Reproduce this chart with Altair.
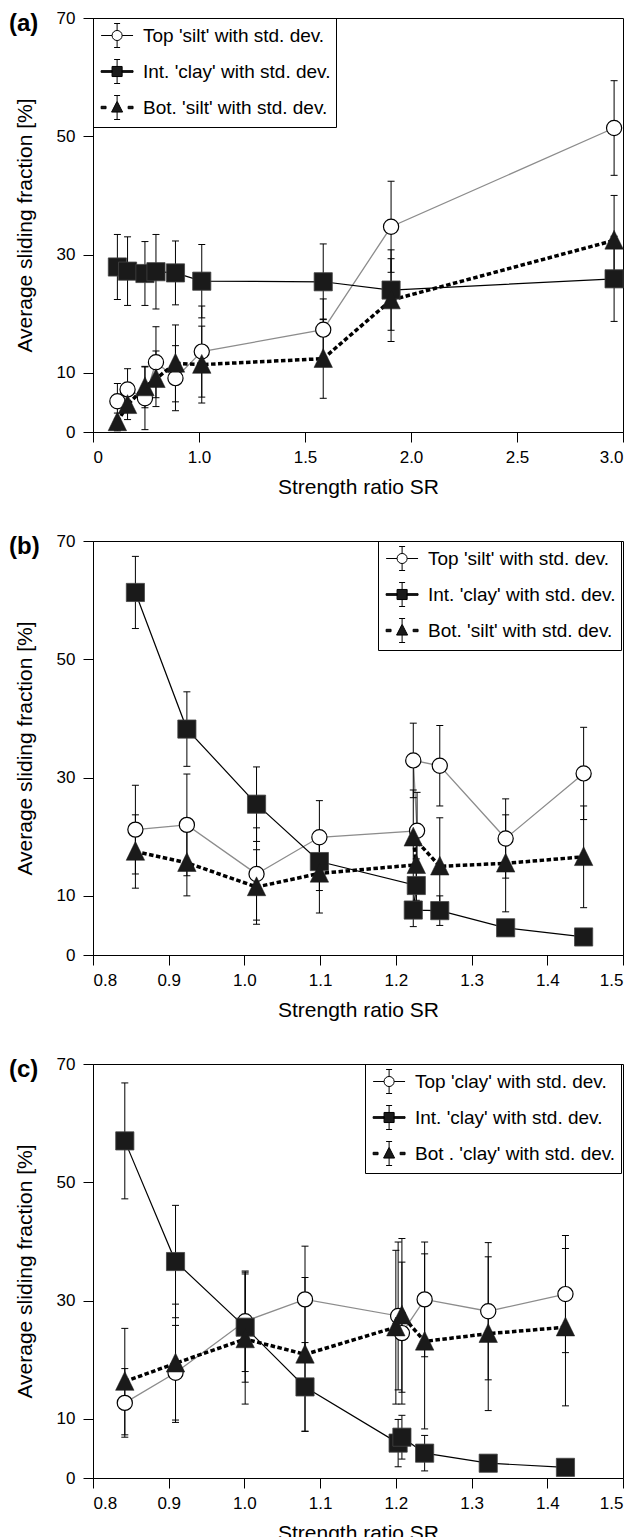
import altair as alt
import pandas as pd

FONT = "Liberation Sans"
GRAY = "#8c8c8c"
DARK = "#1a1a1a"
W, H = 530, 414

Y_TICKS = [0, 10, 30, 50, 70]
X_TICKS_A = [0.5, 1.0, 1.5, 2.0, 2.5, 3.0]
X_TICKS_BC = [0.8, 0.9, 1.0, 1.1, 1.2, 1.3, 1.4, 1.5]

LABELS_AB = ["Top 'silt' with std. dev.", "Int. 'clay' with std. dev.", "Bot. 'silt' with std. dev."]
LABELS_C = ["Top 'clay' with std. dev.", "Int. 'clay' with std. dev.", "Bot . 'clay' with std. dev."]

# ---------------- panel (a) ----------------
a_x = [0.615, 0.663, 0.745, 0.797, 0.889, 1.013, 1.586, 1.906, 2.958]
a_top_y = [5.2, 7.2, 5.7, 11.8, 9.1, 13.6, 17.3, 34.7, 51.4]
a_top_sd = [3.0, 3.5, 5.3, 6.0, 5.5, 7.7, 5.2, 7.7, 8.0]
a_int_y = [27.9, 27.2, 26.8, 27.1, 26.9, 25.5, 25.4, 24.0, 25.9]
a_int_sd = [5.5, 5.8, 5.4, 6.3, 5.4, 6.2, 6.4, 6.8, 7.2]
a_bot_y = [1.7, 4.6, 7.6, 9.0, 11.6, 11.4, 12.4, 22.3, 32.4]
a_bot_sd = [1.5, 2.5, 3.5, 4.7, 6.5, 6.5, 6.7, 7.0, 7.6]

# ---------------- panel (b) ----------------
b_top_x = [0.856, 0.924, 1.016, 1.099, 1.228, 1.223, 1.258, 1.345, 1.448]
b_top_y = [21.2, 22.0, 13.7, 19.9, 21.0, 32.9, 32.0, 19.7, 30.7]
b_top_sd = [7.5, 8.6, 7.8, 6.2, 6.5, 6.3, 6.8, 6.7, 7.8]
b_int_x = [0.856, 0.924, 1.016, 1.099, 1.227, 1.223, 1.258, 1.345, 1.448]
b_int_y = [61.3, 38.2, 25.5, 15.8, 11.75, 7.6, 7.5, 4.6, 3.05]
b_int_sd = [6.1, 6.3, 6.3, 4.9, 4.5, 2.8, 2.5, 0.4, 0.3]
b_bot_x = [0.856, 0.924, 1.016, 1.099, 1.227, 1.223, 1.258, 1.345, 1.448]
b_bot_y = [17.5, 15.6, 11.5, 13.8, 15.25, 19.9, 15.0, 15.5, 16.6]
b_bot_sd = [6.2, 5.6, 6.3, 6.7, 6.0, 8.0, 8.2, 8.2, 8.6]

# ---------------- panel (c) ----------------
c_top_x = [0.842, 0.909, 1.001, 1.080, 1.203, 1.208, 1.238, 1.322, 1.424]
c_top_y = [12.7, 17.8, 26.5, 30.2, 27.4, 24.5, 30.2, 28.2, 31.1]
c_top_sd = [5.8, 8.0, 8.5, 9.0, 12.5, 12.0, 9.7, 11.6, 9.9]
c_int_x = [0.842, 0.909, 1.001, 1.080, 1.203, 1.208, 1.238, 1.322, 1.424]
c_int_y = [57.0, 36.6, 25.5, 15.4, 5.9, 6.9, 4.2, 2.5, 1.8]
c_int_sd = [9.8, 9.5, 9.3, 7.5, 4.0, 3.7, 3.0, 0.5, 0.4]
c_bot_x = [0.842, 0.909, 1.001, 1.080, 1.200, 1.208, 1.238, 1.322, 1.424]
c_bot_y = [16.3, 19.4, 23.5, 20.9, 25.5, 27.5, 23.1, 24.4, 25.5]
c_bot_sd = [9.0, 10.0, 11.0, 13.0, 13.0, 13.0, 14.8, 13.0, 13.3]

# ---- legend glyphs (unit = 12 px, glyph centred S units right of the slot centre) ----
S = 0.55


def f(v):
    return "{:.3f}".format(v)


def eb(t, b):
    return ("M{s},{t}V-1M{cl},-1H{cr}M{s},{b}V1M{cl},1H{cr}"
            .format(s=f(S), t=f(t), b=f(b), cl=f(S - 0.25), cr=f(S + 0.25)))


def rect(x0, x1, hh):
    return "M{a},{t}H{b}V{u}H{a}Z".format(a=f(S + x0), b=f(S + x1), t=f(-hh), u=f(hh))


P_CIRC = ("M{a},0H{b}M{c},0H{d}".format(a=f(S - 1.33), b=f(S - 0.42), c=f(S + 0.42), d=f(S + 1.33))
          + "M{a},0A0.42,0.42 0 1,1 {b},0A0.42,0.42 0 1,1 {a},0Z".format(a=f(S + 0.42), b=f(S - 0.42))
          + eb(-0.42, 0.42))
P_SQ = (rect(-1.33, -0.42, 0.07) + rect(0.42, 1.33, 0.07)
        + "M{l},-0.42H{r}V0.42H{l}Z".format(l=f(S - 0.42), r=f(S + 0.42)) + eb(-0.42, 0.42))
P_TRI = (rect(-1.33, -0.92, 0.1) + rect(0.92, 1.33, 0.1)
         + "M{s},-0.52L{r},0.38H{l}Z".format(s=f(S), l=f(S - 0.46), r=f(S + 0.46)) + eb(-0.52, 0.38))
TRI_MARK = "M0,-1.1L1,0.95L-1,0.95Z"
DASH_BOT = [4.5, 2.5]


def build_df(labels, series):
    rows = []
    for lab, (xs, ys, sds) in zip(labels, series):
        for i, (x, y, s) in enumerate(zip(xs, ys, sds)):
            rows.append(dict(series=lab, idx=i, x=x, y=y, lo=y - s, hi=y + s))
    return pd.DataFrame(rows)


def panel(df, labels, xdom, xvals, lab_expr, tag, leg_x):
    xenc = alt.X("x:Q", scale=alt.Scale(domain=xdom, nice=False, zero=False),
                 axis=alt.Axis(values=xvals, labelExpr=lab_expr, title="Strength ratio SR"))
    yenc = alt.Y("y:Q", scale=alt.Scale(domain=[0, 70], nice=False, zero=False),
                 axis=alt.Axis(values=Y_TICKS, title="Average sliding fraction [%]"))
    base = alt.Chart(df)

    def line(lab, color, width, dash):
        kw = dict(color=color, strokeWidth=width)
        if dash:
            kw["strokeDash"] = dash
        return base.transform_filter(alt.datum.series == lab).mark_line(**kw).encode(
            x=xenc, y=yenc, order="idx:Q")

    l_top = line(labels[0], GRAY, 1.3, None)
    l_int = line(labels[1], "black", 1.2, None)
    l_bot = line(labels[2], "black", 3.5, DASH_BOT)

    bars = base.mark_rule(color="black", strokeWidth=1).encode(x="x:Q", y="lo:Q", y2="hi:Q")
    caps_lo = base.mark_tick(orient="horizontal", color="black", thickness=1, size=7, opacity=1).encode(x="x:Q", y="lo:Q")
    caps_hi = base.mark_tick(orient="horizontal", color="black", thickness=1, size=7, opacity=1).encode(x="x:Q", y="hi:Q")
    p_top = base.transform_filter(alt.datum.series == labels[0]).mark_point(
        shape="circle", size=230, filled=True, fill="white", stroke="black", strokeWidth=1.2, opacity=1
    ).encode(x="x:Q", y="y:Q")
    p_int = base.transform_filter(alt.datum.series == labels[1]).mark_point(
        shape="square", size=330, filled=True, fill=DARK, stroke="#444", strokeWidth=0.8, opacity=1
    ).encode(x="x:Q", y="y:Q")
    p_bot = base.transform_filter(alt.datum.series == labels[2]).mark_point(
        shape=TRI_MARK, size=340, filled=True, fill=DARK, stroke=DARK, strokeWidth=0.5, opacity=1
    ).encode(x="x:Q", y="y:Q")

    leg = alt.Legend(orient="none", legendX=leg_x, legendY=0, title=None, direction="vertical",
                     padding=5, rowPadding=7, labelOffset=20, labelFontSize=19, labelFont=FONT,
                     labelColor="black", labelLimit=400, cornerRadius=0, symbolOpacity=1,
                     strokeColor="black", symbolSize=576, symbolStrokeWidth=1)
    leg_marks = base.mark_point(opacity=0, filled=False).encode(
        x="x:Q", y="y:Q",
        shape=alt.Shape("series:N", scale=alt.Scale(domain=labels, range=[P_CIRC, P_SQ, P_TRI]), legend=leg),
        fill=alt.Fill("series:N", scale=alt.Scale(domain=labels, range=["white", DARK, DARK]), legend=leg),
        stroke=alt.Stroke("series:N", scale=alt.Scale(domain=labels, range=["black", "black", "black"]), legend=leg),
    )
    tag_layer = alt.Chart(pd.DataFrame({"tag": [tag]})).mark_text(
        align="left", baseline="alphabetic", font=FONT, fontSize=24, fontWeight="bold", color="black"
    ).encode(x=alt.value(-84), y=alt.value(13), text="tag:N")
    return alt.layer(l_top, l_int, l_bot, bars, caps_lo, caps_hi, p_top, p_int, p_bot,
                     leg_marks, tag_layer).properties(width=W, height=H)


df_a = build_df(LABELS_AB, [(a_x, a_top_y, a_top_sd), (a_x, a_int_y, a_int_sd), (a_x, a_bot_y, a_bot_sd)])
df_b = build_df(LABELS_AB, [(b_top_x, b_top_y, b_top_sd), (b_int_x, b_int_y, b_int_sd), (b_bot_x, b_bot_y, b_bot_sd)])
df_c = build_df(LABELS_C, [(c_top_x, c_top_y, c_top_sd), (c_int_x, c_int_y, c_int_sd), (c_bot_x, c_bot_y, c_bot_sd)])

lab_a = "datum.value < 0.75 ? '0' : format(datum.value, '.1f')"
lab_bc = "format(datum.value, '.1f')"

ch_a = panel(df_a, LABELS_AB, [0.5, 3.0], X_TICKS_A, lab_a, "(a)", 0)
ch_b = panel(df_b, LABELS_AB, [0.8, 1.5], X_TICKS_BC, lab_bc, "(b)", 285)
ch_c = panel(df_c, LABELS_C, [0.8, 1.5], X_TICKS_BC, lab_bc, "(c)", 272)

IND = dict(stroke="independent", shape="independent", fill="independent")

chart = alt.vconcat(ch_a, ch_b, ch_c, spacing=109, bounds="flush").resolve_scale(**IND).resolve_legend(**IND).properties(
    padding={"left": 0, "top": 0, "right": 0, "bottom": 0}
).configure_axis(
    labelFont=FONT, labelFontSize=17, labelColor="black", titleFont=FONT, titleFontSize=21,
    titleFontWeight="normal", titleColor="black", domainColor="black", tickColor="black",
    tickSize=10, grid=False, labelPadding=7, domainWidth=1, tickWidth=1
).configure_axisY(titlePadding=21, labelPadding=8).configure_axisX(titlePadding=11).configure_view(
    stroke="black", strokeWidth=1
)

chart.save("out.html", embed_options={"renderer": "svg", "actions": False})
